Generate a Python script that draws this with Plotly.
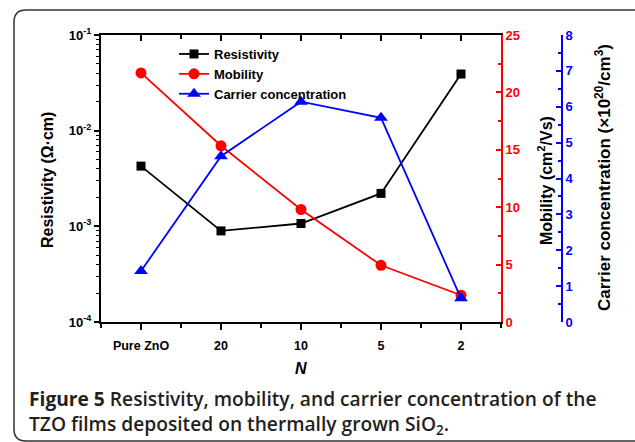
import plotly.graph_objects as go
import re

categories = ["Pure ZnO", "20", "10", "5", "2"]
resistivity = [4.26e-3, 8.96e-4, 1.07e-3, 2.21e-3, 3.91e-2]
mobility = [21.7, 15.35, 9.8, 4.94, 2.33]
carrier = [1.42, 4.62, 6.14, 5.69, 0.66]

left_ticks = [1e-4, 1e-3, 1e-2, 1e-1]
left_ticktext = ["10<sup>-4</sup>", "10<sup>-3</sup>", "10<sup>-2</sup>", "10<sup>-1</sup>"]
left_minor = [m * d for d in [1e-4, 1e-3, 1e-2] for m in range(2, 10)]

xpos = list(range(len(categories)))
FONT = "Arial, Liberation Sans, sans-serif"

fig = go.Figure()
fig.add_trace(go.Scatter(x=xpos, y=resistivity, name="Resistivity", mode="lines+markers",
                         line=dict(color="black", width=1.8),
                         marker=dict(symbol="square", size=9, color="black"),
                         xaxis="x", yaxis="y"))
fig.add_trace(go.Scatter(x=xpos, y=mobility, name="Mobility", mode="lines+markers",
                         line=dict(color="#ff0000", width=1.8),
                         marker=dict(symbol="circle", size=11, color="#ff0000"),
                         xaxis="x", yaxis="y2"))
fig.add_trace(go.Scatter(x=xpos, y=carrier, name="Carrier concentration", mode="lines+markers",
                         line=dict(color="#0000ff", width=1.8),
                         marker=dict(symbol="triangle-up", size=12, color="#0000ff"),
                         xaxis="x", yaxis="y3"))
# invisible trace for top mirror axis
fig.add_trace(go.Scatter(x=xpos, y=resistivity, mode="lines", showlegend=False,
                         line=dict(color="rgba(0,0,0,0)"), hoverinfo="skip",
                         xaxis="x2", yaxis="y"))

W, H = 635, 442
ml, mr, mt, mb = 101, 73, 35, 120
pw = W - ml - mr
dom_end = 400 / pw

fig.update_layout(
    width=W, height=H,
    margin=dict(l=ml, r=mr, t=mt, b=mb, autoexpand=False),
    paper_bgcolor="white", plot_bgcolor="white",
    showlegend=True,
    legend=dict(x=(174 - ml) / pw, y=1 - (39 - mt) / 287, xanchor="left", yanchor="top",
                bgcolor="rgba(0,0,0,0)", font=dict(family=FONT, size=13, color="black", weight="bold"),
                tracegroupgap=0, itemwidth=30),
    xaxis=dict(domain=[0, dom_end], range=[-0.5, 4.5], tickvals=xpos, ticktext=categories,
               showline=True, linecolor="black", linewidth=2, ticks="outside", ticklen=6,
               tickwidth=1.5, tickcolor="black", showgrid=False, zeroline=False,
               tickfont=dict(family=FONT, size=12.5, color="black", weight="bold"),
               ticklabelstandoff=5,
               minor=dict(dtick=0.5, tick0=0, ticks="outside", ticklen=4, tickwidth=1.5, tickcolor="black"),
               anchor="y"),
    xaxis2=dict(domain=[0, dom_end], range=[-0.5, 4.5], overlaying="x", side="top", anchor="y",
                tickvals=xpos, showticklabels=False,
                showline=True, linecolor="black", linewidth=2, ticks="inside", ticklen=6,
                tickwidth=1.5, tickcolor="black", showgrid=False, zeroline=False,
                minor=dict(dtick=0.5, tick0=0, ticks="inside", ticklen=4, tickwidth=1.5, tickcolor="black")),
    yaxis=dict(type="log", range=[-4, -1], tickvals=left_ticks, ticktext=left_ticktext,
               showline=True, linecolor="black", linewidth=2, ticks="outside", ticklen=5,
               tickwidth=1.5, tickcolor="black", showgrid=False, zeroline=False,
               tickfont=dict(family=FONT, size=13, color="black", weight="bold"),
               minor=dict(tickvals=left_minor, ticks="outside", ticklen=3, tickwidth=1,
                          tickcolor="black", showgrid=False),
               anchor="x"),
    yaxis2=dict(range=[0, 25], dtick=5, overlaying="y", side="right", anchor="x",
                showline=True, linecolor="#ff0000", linewidth=2, ticks="inside", ticklen=5,
                tickwidth=1.5, tickcolor="#ff0000", showgrid=False, zeroline=False,
                tickfont=dict(family=FONT, size=13, color="#ff0000", weight="bold"),
                minor=dict(dtick=2.5, ticks="inside", ticklen=3, tickwidth=1.5, tickcolor="#ff0000")),
    yaxis3=dict(range=[0, 8], dtick=1, overlaying="y", side="right", anchor="free", position=1.0,
                showline=True, linecolor="#0000ff", linewidth=2, ticks="inside", ticklen=5,
                tickwidth=1.5, tickcolor="#0000ff", showgrid=False, zeroline=False,
                tickfont=dict(family=FONT, size=13, color="#0000ff", weight="bold"),
                minor=dict(dtick=0.5, ticks="inside", ticklen=3, tickwidth=1.5, tickcolor="#0000ff")),
)

def px_x(px):
    return (px - ml) / pw

def px_y(py):
    return (322 - py) / 287

fig.add_annotation(text="Resistivity (Ω·cm)", x=px_x(47), y=px_y(180), xref="paper", yref="paper",
                   xanchor="center", yanchor="middle", textangle=-90, showarrow=False,
                   font=dict(family=FONT, size=16, color="black", weight="bold"))
fig.add_annotation(text="Mobility (cm<sup>2</sup>/Vs)", x=px_x(545), y=px_y(181), xref="paper", yref="paper",
                   xanchor="center", yanchor="middle", textangle=-90, showarrow=False,
                   font=dict(family=FONT, size=16, color="black", weight="bold"))
fig.add_annotation(text="Carrier concentration (×10<sup>20</sup>/cm<sup>3</sup>)", x=px_x(603), y=px_y(178),
                   xref="paper", yref="paper", xanchor="center", yanchor="middle", textangle=-90,
                   showarrow=False, font=dict(family=FONT, size=17, color="black", weight="bold"))
fig.add_annotation(text="<i>N</i>", x=px_x(301), y=px_y(368), xref="paper", yref="paper",
                   xanchor="center", yanchor="middle",
                   showarrow=False, font=dict(family=FONT, size=16, color="black", weight="bold"))

cap_font = dict(family="Open Sans, Noto Sans, sans-serif", size=19.2, color="#231f20", weight=600)
fig.add_annotation(text=("<b>Figure 5</b> Resistivity, mobility, and carrier concentration of the<br>"
                         "TZO films deposited on thermally grown SiO<sub>2</sub>."),
                   x=px_x(27), y=px_y(412), xref="paper", yref="paper", xanchor="left", yanchor="middle",
                   align="left", showarrow=False, font=cap_font)

# rounded border around figure
x0, y0, x1, y1, r = 14, 10, 660, 441, 12
path = (f"M {x0+r},{y0} L {x1-r},{y0} Q {x1},{y0} {x1},{y0+r} L {x1},{y1-r} Q {x1},{y1} {x1-r},{y1} "
        f"L {x0+r},{y1} Q {x0},{y1} {x0},{y1-r} L {x0},{y0+r} Q {x0},{y0} {x0+r},{y0} Z")
def conv(m):
    a, b = float(m.group(1)), float(m.group(2))
    return f"{px_x(a):.5f},{px_y(b):.5f}"
ppath = re.sub(r"(-?[\d.]+),(-?[\d.]+)", conv, path)
fig.add_shape(type="path", path=ppath, xref="paper", yref="paper",
              line=dict(color="#333333", width=1.5), layer="below")

fig.write_html("out.html", config={"displayModeBar": False},
               post_script="document.body.style.margin='0';document.body.style.overflow='hidden';")
